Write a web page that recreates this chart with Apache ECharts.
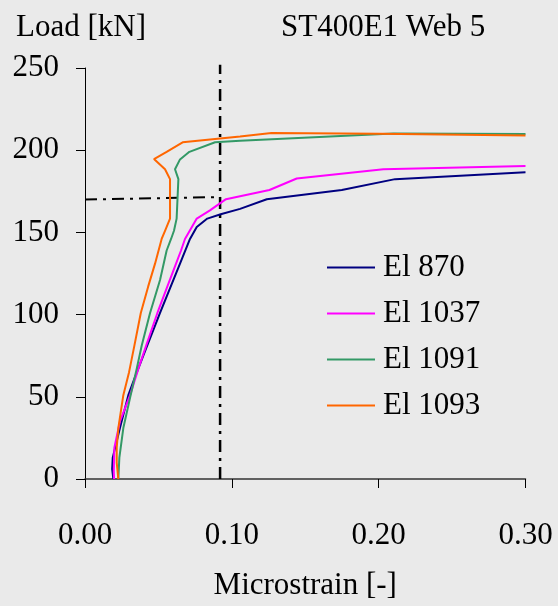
<!DOCTYPE html>
<html>
<head>
<meta charset="utf-8">
<script src="https://cdn.jsdelivr.net/npm/echarts@6/dist/echarts.min.js"></script>
<style>
html,body{margin:0;padding:0;background:#eaeaea;}
#c{width:558px;height:606px;}
</style>
</head>
<body>
<div id="c"></div>
<script>
var seriesNames = ['El 870', 'El 1037', 'El 1091', 'El 1093'];
var xTicks = [0, 0.1, 0.2, 0.3];
var yTicks = [0, 50, 100, 150, 200, 250];

var el870 = [[0.0193,0],[0.0185,6],[0.0189,13],[0.0238,31],[0.0295,51],[0.0345,63],[0.0397,75],[0.0511,101],[0.0647,131],[0.0715,146],[0.0761,153.3],[0.0833,158.4],[0.0924,161],[0.1056,164.3],[0.1238,170.2],[0.1749,175.8],[0.2112,182.4],[0.30,186.6]];
var el1037 = [[0.0198,0],[0.0196,5],[0.0200,19],[0.0238,35],[0.0307,51],[0.0363,67],[0.0416,81],[0.0493,101],[0.0556,116],[0.062,131],[0.0654,139],[0.0681,146],[0.0761,158.4],[0.0851,163.4],[0.0960,170.2],[0.1256,175.8],[0.1442,182.8],[0.2032,188.4],[0.30,190.4]];
var el1091 = [[0.0227,0],[0.0234,13],[0.0261,31],[0.0311,51],[0.0352,67],[0.0386,81],[0.0443,101],[0.0511,121],[0.0556,139],[0.0586,146],[0.0606,151],[0.0624,158.4],[0.0636,182.4],[0.0613,188.4],[0.0647,194.4],[0.0711,199],[0.0886,204.8],[0.1056,205.8],[0.21,210.2],[0.30,209.8]];
var el1093 = [[0.0227,0],[0.0216,10],[0.0216,19],[0.0227,31],[0.0261,51],[0.0300,65],[0.0336,81],[0.0380,101],[0.0430,117],[0.0477,131],[0.0522,146],[0.0545,151],[0.0579,158.4],[0.0579,182.4],[0.0545,188.4],[0.0470,194.6],[0.0556,199],[0.0665,204.8],[0.1056,208.4],[0.127,210.4],[0.20,210],[0.30,209]];
var vRef = [[0.092,0],[0.092,252]];
var hRef = [[0,170],[0.092,171.5]];

var colors = ['#000080', '#ff00ff', '#339966', '#ff6600'];
var dataSets = [el870, el1037, el1091, el1093];
var FONT = "'Liberation Serif', 'Times New Roman', serif";

var series = dataSets.map(function (d, i) {
  return {
    name: seriesNames[i], type: 'line', data: d, showSymbol: false, symbol: 'none',
    lineStyle: { color: colors[i], width: 2 }, itemStyle: { color: colors[i] },
    animation: false, z: 3
  };
});
series.push({
  type: 'line', data: vRef, showSymbol: false, symbol: 'none', clip: false,
  lineStyle: { color: '#000', width: 2.5, type: [12, 6, 3, 6] }, animation: false, z: 2
});
series.push({
  type: 'line', data: hRef, showSymbol: false, symbol: 'none',
  lineStyle: { color: '#000', width: 2, type: [12, 6, 3, 6] }, animation: false, z: 2
});

var chart = echarts.init(document.getElementById('c'), null, { renderer: 'canvas' });
chart.setOption({
  backgroundColor: '#eaeaea',
  animation: false,
  textStyle: { fontFamily: FONT },
  title: [
    { text: 'Load [kN]', left: 11, top: 7, textStyle: { fontFamily: FONT, fontSize: 31, fontWeight: 'normal', color: '#000' } },
    { text: 'ST400E1 Web 5', left: 276, top: 7, textStyle: { fontFamily: FONT, fontSize: 31, fontWeight: 'normal', color: '#000' } }
  ],
  legend: {
    data: seriesNames, orient: 'vertical', left: 327, top: 252,
    icon: 'rect', itemWidth: 48, itemHeight: 2, itemGap: 15,
    textStyle: { fontFamily: FONT, fontSize: 31, color: '#000', lineHeight: 31, padding: [0, 0, 0, 3] },
    padding: 0
  },
  grid: { left: 85, right: 32.5, top: 68, bottom: 124, containLabel: false },
  xAxis: {
    type: 'value', min: 0, max: 0.3, interval: 0.1,
    name: 'Microstrain [-]', nameLocation: 'middle', nameGap: 91,
    nameTextStyle: { fontFamily: FONT, fontSize: 31, color: '#000' },
    axisLine: { show: true, onZero: false, lineStyle: { color: '#333', width: 1.5 } },
    axisTick: { show: true, inside: false, length: 9, lineStyle: { color: '#000', width: 1 } },
    axisLabel: { margin: 41, fontFamily: FONT, fontSize: 31, color: '#000',
      formatter: function (v) { return v.toFixed(2); } },
    splitLine: { show: false }
  },
  yAxis: {
    type: 'value', min: 0, max: 250, interval: 50,
    axisLine: { show: true, lineStyle: { color: '#000', width: 1 } },
    axisTick: { show: true, inside: false, length: 9, lineStyle: { color: '#000', width: 1 } },
    axisLabel: { margin: 26, fontFamily: FONT, fontSize: 31, color: '#000' },
    splitLine: { show: false }
  },
  series: series
});
</script>
</body>
</html>
